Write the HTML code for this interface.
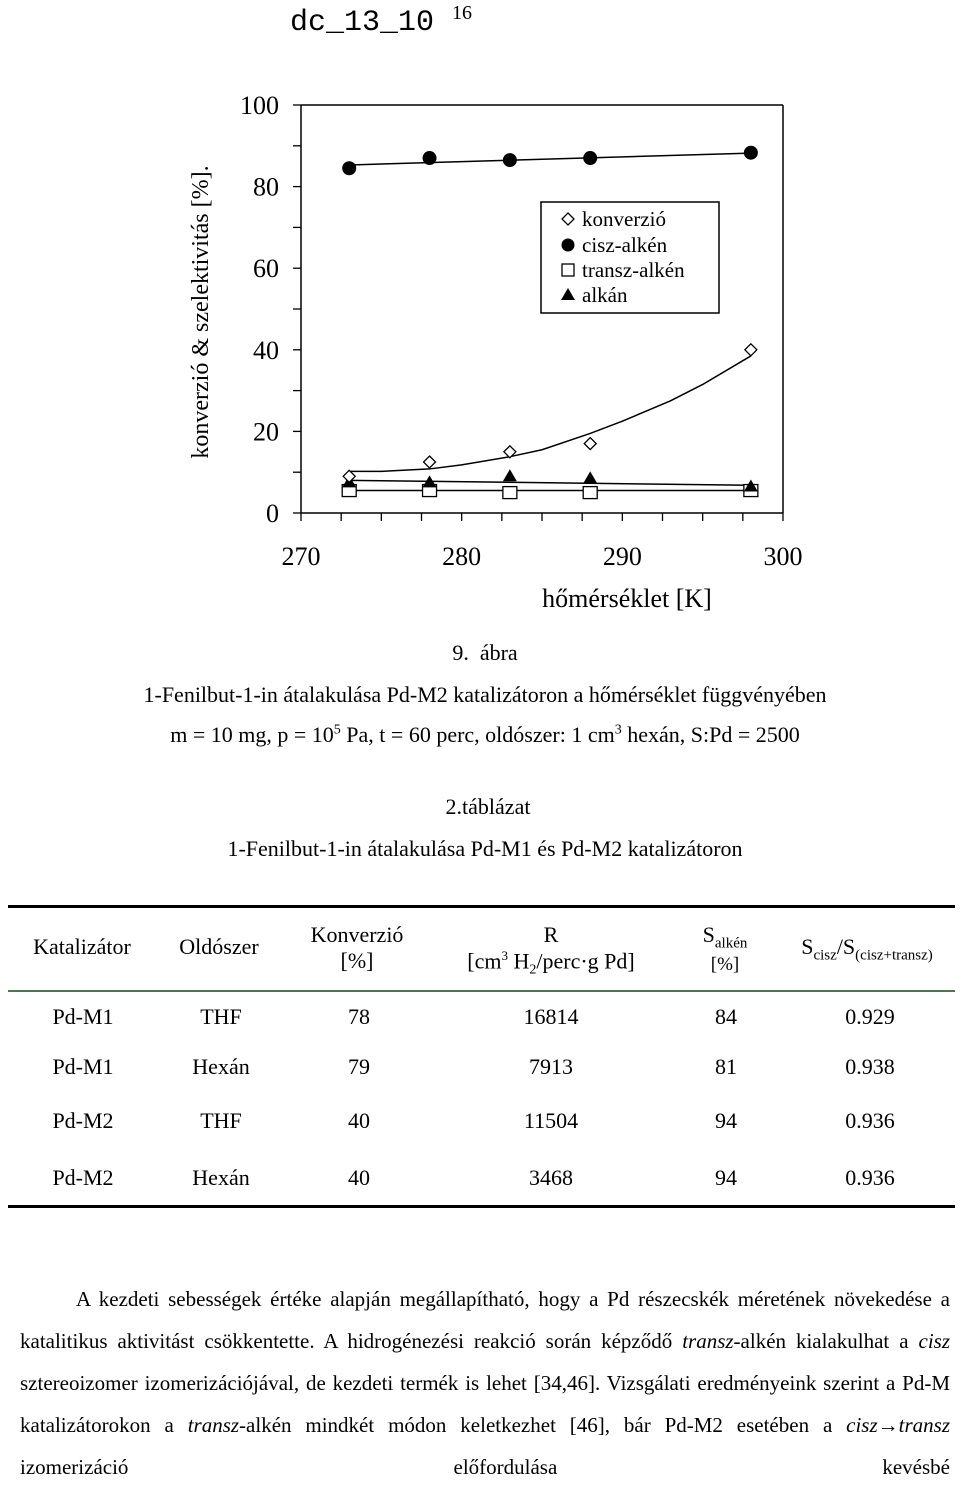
<!DOCTYPE html>
<html><head><meta charset="utf-8"><style>
body{margin:0;width:960px;height:1476px;background:#fff;position:relative;overflow:hidden;font-family:"Liberation Serif",serif;color:#000}
.a{position:absolute;white-space:nowrap}
.c{transform:translateX(-50%)}
.t{font-size:22px}
p{margin:0}
</style></head><body>
<div class="a" style="left:290px;top:2px;font-family:'Liberation Mono',monospace;font-size:30px">dc_13_10 <sup style="font-family:'Liberation Serif',serif;font-size:20px">16</sup></div>

<svg class="a" style="left:0;top:0" width="960" height="630">
<g id="axes"></g>
<g id="marks"></g>
<text transform="translate(208,312) rotate(-90)" text-anchor="middle" font-size="24" font-family="Liberation Serif">konverzió &amp; szelektivitás [%].</text>
<text x="627" y="607" text-anchor="middle" font-size="26" font-family="Liberation Serif">hőmérséklet [K]</text>
<g font-family="Liberation Serif" font-size="21">
<rect x="541" y="202" width="178" height="111" fill="#fff" stroke="#000" stroke-width="1.5"/>
<path d="M568 213l6 6-6 6-6-6z" fill="#fff" stroke="#000" stroke-width="1.3"/><text x="582" y="226">konverzió</text>
<circle cx="568" cy="245" r="6.5"/><text x="582" y="252">cisz-alkén</text>
<rect x="562" y="264" width="12" height="12" fill="#fff" stroke="#000" stroke-width="1.3"/><text x="582" y="277">transz-alkén</text>
<path d="M568 288l7 12h-14z"/><text x="582" y="302">alkán</text>
</g>
</svg>

<div class="a c t" style="left:485px;top:640px">9.&nbsp;&nbsp;ábra</div>
<div class="a c t" style="left:485px;top:682px">1-Fenilbut-1-in átalakulása Pd-M2 katalizátoron a hőmérséklet függvényében</div>
<div class="a c t" style="left:485px;top:722px">m = 10 mg, p = 10<sup style="font-size:14px">5</sup> Pa, t = 60 perc, oldószer: 1 cm<sup style="font-size:14px">3</sup> hexán, S:Pd = 2500</div>
<div class="a c t" style="left:488px;top:794px">2.táblázat</div>
<div class="a c t" style="left:485px;top:836px">1-Fenilbut-1-in átalakulása Pd-M1 és Pd-M2 katalizátoron</div>

<div class="a" style="left:8px;top:905px;width:947px;height:3px;background:#000"></div>
<div class="a" style="left:8px;top:990px;width:947px;height:2px;background:#4a7a4a"></div>
<div class="a" style="left:8px;top:1205px;width:947px;height:3px;background:#000"></div>
<div>
<div class="a c t" style="left:82px;top:934px">Katalizátor</div>
<div class="a c t" style="left:219px;top:934px">Oldószer</div>
<div class="a c t" style="left:357px;top:922px;text-align:center">Konverzió<br>[%]</div>
<div class="a c t" style="left:551px;top:922px;text-align:center">R<br>[cm<sup style="font-size:13px">3</sup> H<sub style="font-size:14px">2</sub>/perc·g Pd]</div>
<div class="a c t" style="left:725px;top:925px;text-align:center;line-height:20px">S<sub style="font-size:15px">alkén</sub><br><span style="font-size:19px">[%]</span></div>
<div class="a c t" style="left:867px;top:934px">S<sub style="font-size:15px">cisz</sub>/S<sub style="font-size:15px">(cisz+transz)</sub></div>
</div>
<div id="rows"></div>

<div class="a" style="left:20px;top:1278px;width:930px;font-size:21px;line-height:42px;text-align:justify;white-space:normal">
<p style="text-indent:56px;text-align-last:justify">A kezdeti sebességek értéke alapján megállapítható, hogy a Pd részecskék méretének növekedése a katalitikus aktivitást csökkentette. A hidrogénezési reakció során képződő <i>transz</i>-alkén kialakulhat a <i>cisz</i> sztereoizomer izomerizációjával, de kezdeti termék is lehet [34,46]. Vizsgálati eredményeink szerint a Pd-M katalizátorokon a <i>transz</i>-alkén mindkét módon keletkezhet [46], bár Pd-M2 esetében a <i>cisz</i>→<i>transz</i> izomerizáció előfordulása kevésbé</p>
</div>

<script>
const temps=[273,278,283,288,298];
const konverzio=[9,12.5,15,17,40];
const cisz=[84.5,87,86.5,87,88.3];
const transz=[5.5,5.5,5,5,5.5];
const alkan=[7.5,7.5,9,8.5,6.5];
const fitT=[273,275,278,280,283,285,288,290,293,295,298];
const fitKonv=[10.2,10.2,10.8,11.8,13.8,15.5,19.5,22.5,27.5,31.5,38.5];
const ciszLine=[85.3,88.2];
const alkanLine=[8,6.8];
const transzLine=[5.5,5.5];
const xTicks=[270,280,290,300];
const yTicks=[0,20,40,60,80,100];
const ns='http://www.w3.org/2000/svg';
const X=t=>301+(t-270)*(783-301)/30;
const Y=v=>513-v*(513-105)/100;
function mk(tag,at,parent){const e=document.createElementNS(ns,tag);for(const k in at)e.setAttribute(k,at[k]);parent.appendChild(e);return e;}
const ax=document.getElementById('axes'),mg=document.getElementById('marks');
const yl=mk('line',{x1:X(270),y1:Y(0),x2:X(270),y2:Y(100),stroke:'#000','stroke-width':1.5},ax);


const xl=mk('line',{x1:X(270),y1:Y(0),x2:X(300),y2:Y(0),stroke:'#000','stroke-width':1.5},ax);


mk('line',{x1:X(270),y1:Y(100),x2:X(300),y2:Y(100),stroke:'#000','stroke-width':1.5},ax);
mk('line',{x1:X(300),y1:Y(0),x2:X(300),y2:Y(100),stroke:'#000','stroke-width':1.5},ax);
for(let v=0;v<=100;v+=10){mk('line',{x1:X(270)-8,y1:Y(v),x2:X(270),y2:Y(v),stroke:'#000','stroke-width':1.3},ax);}
for(let t=270;t<=300;t+=2.5){mk('line',{x1:X(t),y1:Y(0),x2:X(t),y2:Y(0)+8,stroke:'#000','stroke-width':1.3},ax);}
yTicks.forEach(v=>{const e=mk('text',{x:X(270)-22,y:Y(v)+9,'text-anchor':'end','font-size':26,'font-family':'Liberation Serif'},ax);e.textContent=v;

});
xTicks.forEach(t=>{const e=mk('text',{x:X(t),y:565,'text-anchor':'middle','font-size':26,'font-family':'Liberation Serif'},ax);e.textContent=t;

});
function seg(vals,name){const l=mk('line',{x1:X(temps[0]),y1:Y(vals[0]),x2:X(temps[temps.length-1]),y2:Y(vals[1]),stroke:'#000','stroke-width':1.5},mg);

}
seg(ciszLine,'cisz-trendline');seg(alkanLine,'alkan-trendline');seg(transzLine,'transz-trendline');
const fp=mk('polyline',{points:fitT.map((t,i)=>X(t)+','+Y(fitKonv[i])).join(' '),fill:'none',stroke:'#000','stroke-width':1.5},mg);


temps.forEach((t,i)=>{
const x=X(t);
let y=Y(cisz[i]);const c=mk('circle',{cx:x,cy:y,r:7},mg);


y=Y(transz[i]);const r=mk('rect',{x:x-7,y:y-6,width:14,height:12,fill:'#fff',stroke:'#000','stroke-width':1.3},mg);


y=Y(alkan[i]);const a=mk('path',{d:`M${x} ${y-7}l7 12h-14z`},mg);


y=Y(konverzio[i]);const d=mk('path',{d:`M${x} ${y-6}l6 6-6 6-6-6z`,fill:'#fff',stroke:'#000','stroke-width':1.3},mg);


});
const rows=[["Pd-M1","THF","78","16814","84","0.929"],["Pd-M1","Hexán","79","7913","81","0.938"],["Pd-M2","THF","40","11504","94","0.936"],["Pd-M2","Hexán","40","3468","94","0.936"]];
const rowY=[1004,1054,1108,1165];
const colX=[83,221,359,551,726,870];
const rb=document.getElementById('rows');
rows.forEach((r,i)=>r.forEach((v,j)=>{const d=document.createElement('div');d.className='a c t';d.style.left=colX[j]+'px';d.style.top=rowY[i]+'px';d.textContent=v;


rb.appendChild(d);}));
</script>
</body></html>
